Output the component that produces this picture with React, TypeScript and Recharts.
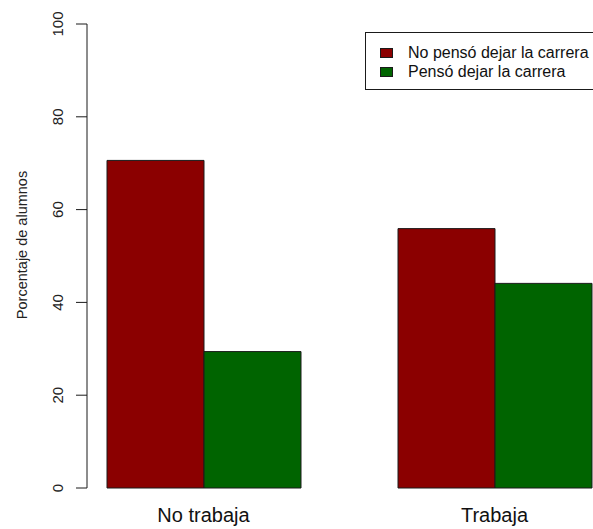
import { BarChart, Bar, XAxis, YAxis, Legend } from 'recharts';

const categories = ['No trabaja', 'Trabaja'];
const noPenso = [70.6, 55.9];
const penso = [29.4, 44.1];
const yTicks = [0, 20, 40, 60, 80, 100];
const seriesKeys = ['noPenso', 'penso'];
const seriesNames = ['No pensó dejar la carrera', 'Pensó dejar la carrera'];
const seriesColors = ['#8b0000', '#006400'];

const data = categories.map((name, i) => ({ name, noPenso: noPenso[i], penso: penso[i] }));

const FONT = '"Liberation Sans", Arial, sans-serif';
const INK = '#1a1a1a';

function YTick(props: any) {
  const { x, y, payload } = props;
  const cx = x - 16.5;
  return (
    <text
      x={cx}
      y={y}
      transform={`rotate(-90, ${cx}, ${y})`}
      textAnchor="middle"
      dominantBaseline="central"
      fontSize={15}
      fontFamily={FONT}
      fill="#222"
    >
      {payload.value}
    </text>
  );
}

function XTick(props: any) {
  const { x, y, payload } = props;
  return (
    <text x={x} y={y + 34} textAnchor="middle" fontSize={20} fontFamily={FONT} fill="#111">
      {payload.value}
    </text>
  );
}

function YLabel(props: any) {
  const { viewBox } = props;
  const cx = 22;
  const cy = viewBox.y + viewBox.height / 2 - 11;
  return (
    <text
      x={cx}
      y={cy}
      transform={`rotate(-90, ${cx}, ${cy})`}
      textAnchor="middle"
      dominantBaseline="central"
      fontSize={14.5}
      fontFamily={FONT}
      fill="#222"
    >
      Porcentaje de alumnos
    </text>
  );
}

function LegendBox() {
  return (
    <div
      style={{
        boxSizing: 'border-box',
        width: 246,
        height: 58,
        border: `1px solid ${INK}`,
        background: '#fff',
        paddingTop: 10,
        paddingLeft: 14,
        fontFamily: FONT,
        fontSize: 16,
        color: '#111',
        textAlign: 'left',
      }}
    >
      {seriesNames.map((n, i) => (
        <div key={n} style={{ display: 'flex', alignItems: 'center', height: 19, whiteSpace: 'nowrap' }}>
          <span
            style={{
              display: 'inline-block',
              boxSizing: 'border-box',
              width: 13,
              height: 10,
              background: seriesColors[i],
              border: `1px solid ${INK}`,
              marginRight: 15,
            }}
          />
          <span>{n}</span>
        </div>
      ))}
    </div>
  );
}

export default function App() {
  return (
    <div
      style={{
        position: 'absolute',
        left: 0,
        top: 0,
        width: 593,
        height: 529,
        overflow: 'hidden',
        background: '#fff',
      }}
    >
      <BarChart
        width={611}
        height={529}
        data={data}
        margin={{ top: 24, right: 0, bottom: 0, left: 0 }}
        barGap={0}
      >
        <XAxis
          dataKey="name"
          height={41}
          axisLine={false}
          tickLine={false}
          tickSize={0}
          tickMargin={0}
          padding={{ left: -29, right: -29 }}
          tick={<XTick />}
          interval={0}
        />
        <YAxis
          width={87}
          domain={[0, 100]}
          ticks={yTicks}
          tickSize={11}
          tickMargin={2}
          axisLine={{ stroke: INK, strokeWidth: 1 }}
          tickLine={{ stroke: INK, strokeWidth: 1 }}
          tick={<YTick />}
          label={<YLabel />}
        />
        <Legend
          layout="horizontal"
          verticalAlign="middle"
          align="center"
          content={<LegendBox />}
          wrapperStyle={{ position: 'absolute', left: 365, top: 32, width: 246 }}
        />
        {seriesKeys.map((k, i) => (
          <Bar
            key={k}
            dataKey={k}
            name={seriesNames[i]}
            fill={seriesColors[i]}
            stroke={INK}
            strokeWidth={1}
            barSize={97}
            isAnimationActive={false}
          />
        ))}
      </BarChart>
    </div>
  );
}
